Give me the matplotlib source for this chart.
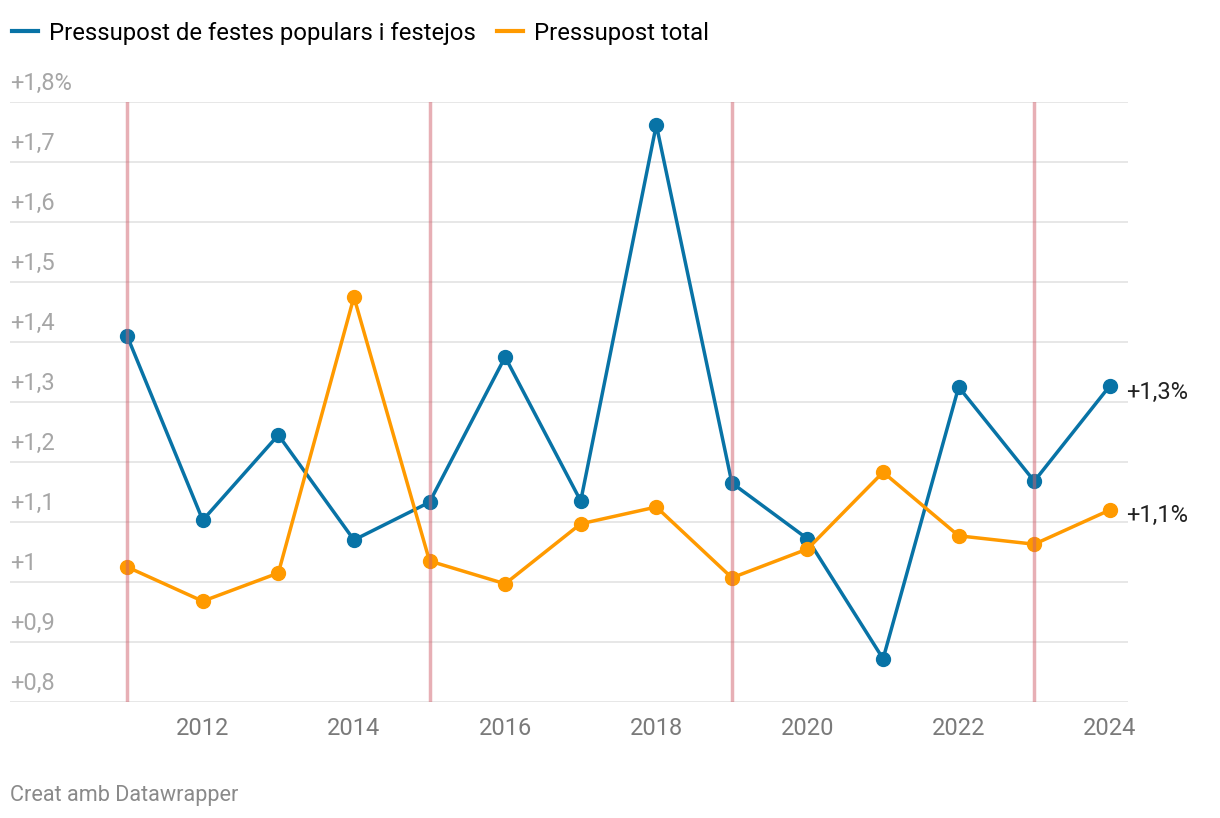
import matplotlib.pyplot as plt

plt.rcParams['font.family'] = ['Roboto', 'DejaVu Sans']

# Data (values in %)
years = [2011, 2012, 2013, 2014, 2015, 2016, 2017, 2018, 2019, 2020, 2021, 2022, 2023, 2024]
festes = [1.41, 1.103, 1.245, 1.07, 1.133, 1.375, 1.135, 1.762, 1.165, 1.072, 0.872, 1.325, 1.168, 1.327]
total = [1.025, 0.968, 1.015, 1.475, 1.035, 0.997, 1.097, 1.125, 1.007, 1.055, 1.183, 1.077, 1.063, 1.12]
election_years = [2011, 2015, 2019, 2023]
y_ticks = [0.8, 0.9, 1.0, 1.1, 1.2, 1.3, 1.4, 1.5, 1.6, 1.7, 1.8]
y_labels = ['+0,8', '+0,9', '+1', '+1,1', '+1,2', '+1,3', '+1,4', '+1,5', '+1,6', '+1,7', '+1,8%']
x_ticks = [2012, 2014, 2016, 2018, 2020, 2022, 2024]

blue = '#0873a6'
orange = '#ff9a00'

W, H = 1220, 818
fig = plt.figure(figsize=(12.2, 8.18), dpi=100)
ax = fig.add_axes([10 / W, (H - 702) / H, 1118 / W, 600 / H])
ax.set_xlim(2009.45, 2024.24)
ax.set_ylim(0.8, 1.8)

# gridlines and y labels
for v, lab in zip(y_ticks, y_labels):
    ax.axhline(v, color='#e3e3e3', lw=1.2, zorder=1)
    ax.text(0, v + 0.031, lab, transform=ax.get_yaxis_transform(), ha='left', va='center',
            fontsize=17, color='#a6a6a6')

ax.plot(years, festes, color=blue, lw=2.5, marker='o', ms=10, zorder=3,
        label='Pressupost de festes populars i festejos')
ax.plot(years, total, color=orange, lw=2.5, marker='o', ms=10, zorder=3,
        label='Pressupost total')

# election year markers, drawn over the lines
for yr in election_years:
    ax.axvline(yr, color='#d0606c', alpha=0.5, lw=2.5, zorder=4)

# end labels
ax.annotate('+1,3%', (years[-1], festes[-1]), xytext=(12, -5), textcoords='offset points',
            ha='left', va='center', fontsize=17, color='#222222')
ax.annotate('+1,1%', (years[-1], total[-1]), xytext=(12, -4), textcoords='offset points',
            ha='left', va='center', fontsize=17, color='#222222')

ax.set_xticks(x_ticks)
ax.set_xticklabels([str(x) for x in x_ticks], fontsize=17, color='#7a7a7a')
ax.tick_params(axis='x', length=0, pad=11)
ax.set_yticks([])
for s in ax.spines.values():
    s.set_visible(False)

# legend
fig.legend(loc='upper left', bbox_to_anchor=(2 / W, 1 - 12 / H), ncol=2, frameon=False,
           fontsize=17.2, handlelength=1.1, handletextpad=0.45, columnspacing=0.9,
           borderaxespad=0)
for line in fig.legends[0].get_lines():
    line.set_marker('')
    line.set_linewidth(3)

fig.text(10 / W, 1 - 795 / H, 'Creat amb Datawrapper', fontsize=15.6, color='#8a8a8a',
         ha='left', va='center')

fig.savefig('out.png', dpi=100)
